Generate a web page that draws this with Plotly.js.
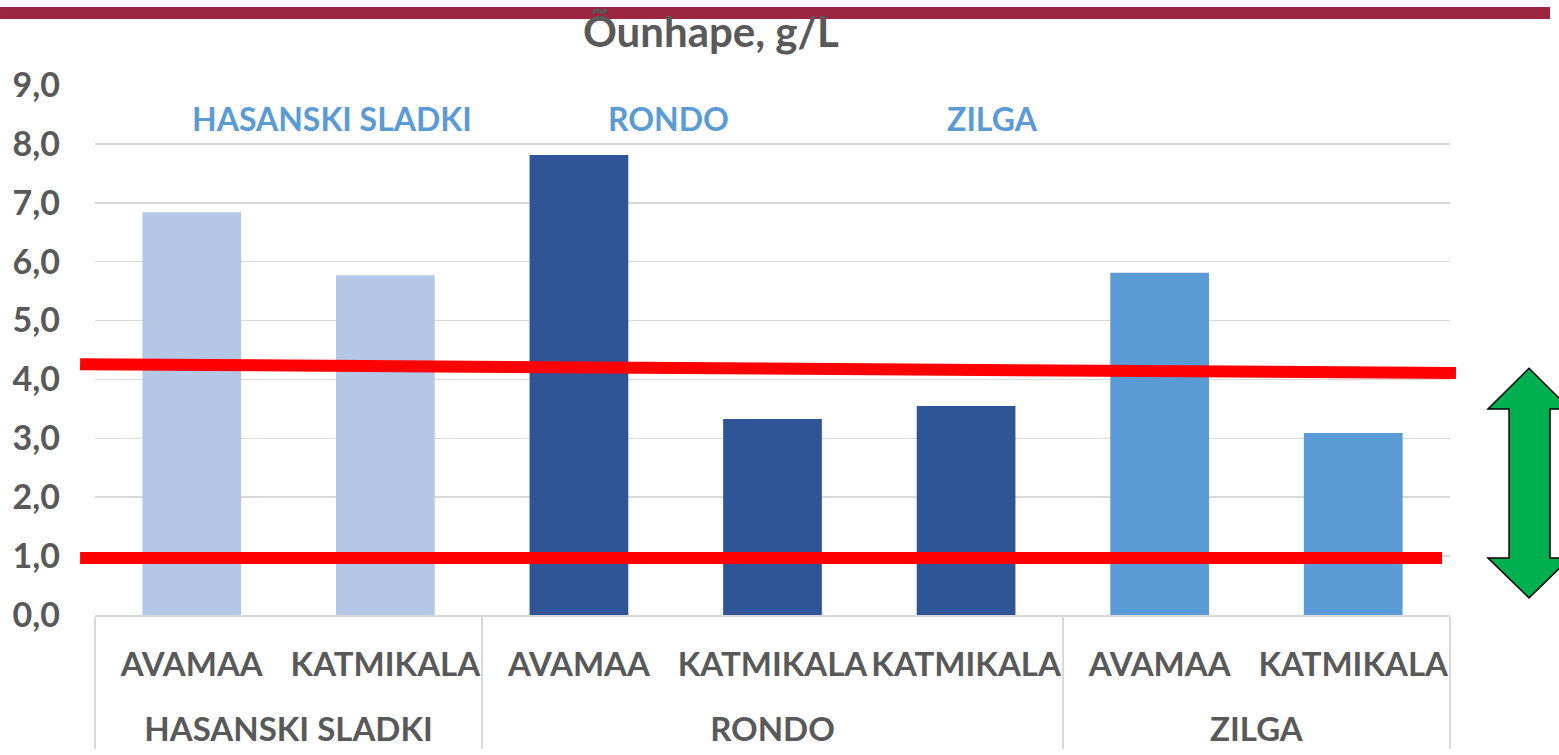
<!DOCTYPE html>
<html>
<head>
<meta charset="utf-8">
<script src="https://cdn.plot.ly/plotly-3.0.1.min.js"></script>
<style>html,body{margin:0;padding:0;background:#fff;}#chart{width:1559px;height:755px;}</style>
</head>
<body>
<div id="chart"></div>
<script>
// ---- data ----
const varieties = ['HASANSKI SLADKI','HASANSKI SLADKI','RONDO','RONDO','RONDO','ZILGA','ZILGA'];
const growing = ['AVAMAA','KATMIKALA','AVAMAA','KATMIKALA','KATMIKALA\u200B','AVAMAA','KATMIKALA'];
const malicAcid = [6.84, 5.77, 7.81, 3.33, 3.55, 5.81, 3.09];
const yTickVals = [0,1,2,3,4,5,6,7,8,9];
const yTickText = ['0,0','1,0','2,0','3,0','4,0','5,0','6,0','7,0','8,0','9,0'];
const varietyLabels = ['HASANSKI SLADKI','RONDO','ZILGA'];
const refLineStart = [4.26, 0.97];
const refLineEnd = [4.11, 0.97];
const arrowTop = 4.19, arrowHeadTop = 3.50, arrowHeadBottom = 0.97, arrowBottom = 0.29;
const titleText = 'Õunhape, g/L';

// ---- styles ----
const varietyColor = {'HASANSKI SLADKI':'#B4C7E7','RONDO':'#2F5597','ZILGA':'#5B9BD5'};
const FONT = 'Lato, "Open Sans", sans-serif';
const GRAY = '#595959';

const trace = {
  type: 'bar',
  x: [varieties.map(v => '<br>' + v), growing],
  y: malicAcid,
  marker: {color: varieties.map(v => varietyColor[v])},
  hoverinfo: 'y'
};

const shapes = [];
// maroon header bar
shapes.push({type:'rect', xref:'paper', yref:'paper', x0:-0.0701, x1:1.0738, y0:1.1245, y1:1.1472,
  fillcolor:'#9C2641', line:{width:0}, layer:'above'});
// red reference lines
const lineX = [[-0.011, 1.0044], [-0.011, 0.9941]];
refLineStart.forEach((v,i) => {
  shapes.push({type:'line', xref:'paper', yref:'y', x0:lineX[i][0], x1:lineX[i][1], y0:v, y1:refLineEnd[i],
    line:{color:'#FF0000', width:12}, layer:'above'});
});
// green double arrow
const xl = 1.0280, xsl = 1.0436, xc = 1.0583, xsr = 1.0738, xr = 1.0886;
const arrowPath = `M ${xc},${arrowTop} L ${xr},${arrowHeadTop} L ${xsr},${arrowHeadTop} L ${xsr},${arrowHeadBottom} ` +
  `L ${xr},${arrowHeadBottom} L ${xc},${arrowBottom} L ${xl},${arrowHeadBottom} L ${xsl},${arrowHeadBottom} ` +
  `L ${xsl},${arrowHeadTop} L ${xl},${arrowHeadTop} Z`;
shapes.push({type:'path', xref:'paper', yref:'y', path: arrowPath, fillcolor:'#00B050',
  line:{color:'#000000', width:1.5}, layer:'above'});

const labelX = [0.1748, 0.4229, 0.6627];
const annotations = varietyLabels.map((t,i) => ({
  text: t, xref:'paper', yref:'paper', x: labelX[i], y: 0.936, xanchor:'center', yanchor:'middle',
  showarrow:false, font:{family:FONT, size:32, color:'#5B9BD5', weight:700}
}));

const layout = {
  width: 1559, height: 755,
  margin: {l:95, r:109, t:85, b:140},
  paper_bgcolor:'#ffffff', plot_bgcolor:'#ffffff',
  showlegend:false,
  bargap: 0.49,
  title: {text: titleText, x: 0.456, xanchor:'center', y: 0.957, yanchor:'middle',
    font:{family:FONT, size:42, color:GRAY, weight:700}},
  font: {family: FONT, color: GRAY},
  xaxis: {
    type:'multicategory',
    showline:true, linecolor:'#D9D9D9', linewidth:1.5,
    showdividers:true, dividercolor:'#D9D9D9', dividerwidth:1.5,
    ticks:'', showgrid:false, zeroline:false,
    tickangle: 0, automargin: false,
    ticklabelstandoff: 20,
    tickfont:{family:FONT, size:33, color:GRAY, weight:700}
  },
  yaxis: {
    range:[0,9], tickvals: yTickVals, ticktext: yTickText,
    showgrid:true, gridcolor:'#D9D9D9', gridwidth:1.5, zeroline:false, showline:false,
    ticks:'', ticklabelstandoff: 34,
    tickfont:{family:FONT, size:34, color:GRAY, weight:700}
  },
  shapes: shapes,
  annotations: annotations
};

Plotly.newPlot('chart', [trace], layout, {displayModeBar:false, staticPlot:true});
</script>
</body>
</html>
